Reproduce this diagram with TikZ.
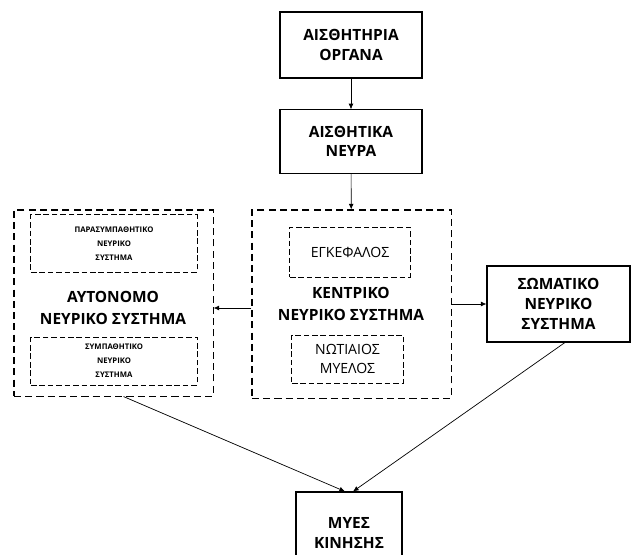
\documentclass[tikz,border=0pt]{standalone}
\usepackage{fontspec}
\setmainfont{Open Sans}
\usetikzlibrary{arrows.meta}

\begin{document}
\begin{tikzpicture}[
    x=0.025cm, y=-0.025cm,
    box/.style={rectangle, draw=black, line width=0.75pt, align=center, font=\fontsize{11}{14}\selectfont\bfseries},
    group/.style={rectangle, draw=black, line width=0.75pt, dash pattern=on 5pt off 3pt},
    part/.style={rectangle, draw=black, line width=0.7pt, dash pattern=on 4pt off 2pt, align=center, font=\fontsize{10}{13}\selectfont},
    smallpart/.style={rectangle, draw=black, line width=0.7pt, dash pattern=on 4pt off 2pt, align=center, font=\fontsize{5.5}{10}\selectfont\bfseries},
    title/.style={align=center, font=\fontsize{11}{15}\selectfont\bfseries},
    arrow/.style={-{Latex[length=4pt,width=3.5pt]}, line width=0.5pt}
]
\useasboundingbox (0,0) rectangle (632,554);

% Sensory path
\node[box, minimum width=3.55cm, minimum height=1.65cm] (organs) at (351,45) {ΑΙΣΘΗΤΗΡΙΑ\\ΟΡΓΑΝΑ};
\node[box, minimum width=3.55cm, minimum height=1.58cm] (nerves) at (351,141.5) {ΑΙΣΘΗΤΙΚΑ\\ΝΕΥΡΑ};

% Central nervous system
\node[group, minimum width=4.975cm, minimum height=4.7cm] (cns) at (351.5,304) {};
\node[part, minimum width=3.0cm, minimum height=1.25cm] (brain) at (350,252) {ΕΓΚΕΦΑΛΟΣ};
\node[title] (cnslabel) at (351,304) {ΚΕΝΤΡΙΚΟ\\ΝΕΥΡΙΚΟ ΣΥΣΤΗΜΑ};
\node[part, minimum width=2.78cm, minimum height=1.2cm] (spine) at (347.5,359) {ΝΩΤΙΑΙΟΣ\\ΜΥΕΛΟΣ};

% Autonomic nervous system
\node[group, minimum width=4.975cm, minimum height=4.65cm] (ans) at (113.5,303) {};
\node[smallpart, minimum width=4.15cm, minimum height=1.43cm] (para) at (114,243.5) {ΠΑΡΑΣΥΜΠΑΘΗΤΙΚΟ\\ΝΕΥΡΙΚΟ\\ΣΥΣΤΗΜΑ};
\node[title] (anslabel) at (113,308) {ΑΥΤΟΝΟΜΟ\\ΝΕΥΡΙΚΟ ΣΥΣΤΗΜΑ};
\node[smallpart, minimum width=4.15cm, minimum height=1.2cm] (symp) at (114,361) {ΣΥΜΠΑΘΗΤΙΚΟ\\ΝΕΥΡΙΚΟ\\ΣΥΣΤΗΜΑ};

% Somatic nervous system
\node[box, minimum width=3.575cm, minimum height=1.9cm] (somatic) at (558.5,304) {ΣΩΜΑΤΙΚΟ\\ΝΕΥΡΙΚΟ\\ΣΥΣΤΗΜΑ};

% Muscles
\node[box, minimum width=2.65cm, minimum height=2.05cm] (muscles) at (349,533) {ΜΥΕΣ\\ΚΙΝΗΣΗΣ};

% Arrows
\draw[arrow] (organs) -- (nerves);
\draw[arrow] (nerves) -- (cns);
\draw[arrow] (cns.west |- anslabel) -- (ans.east |- anslabel);
\draw[arrow] (cns) -- (somatic);
\draw[arrow] ([xshift=0.25cm]ans.south) -- ([xshift=-0.1cm]muscles.north);
\draw[arrow] ([xshift=0.16cm]somatic.south) -- ([xshift=0.1cm]muscles.north);

\end{tikzpicture}
\end{document}
